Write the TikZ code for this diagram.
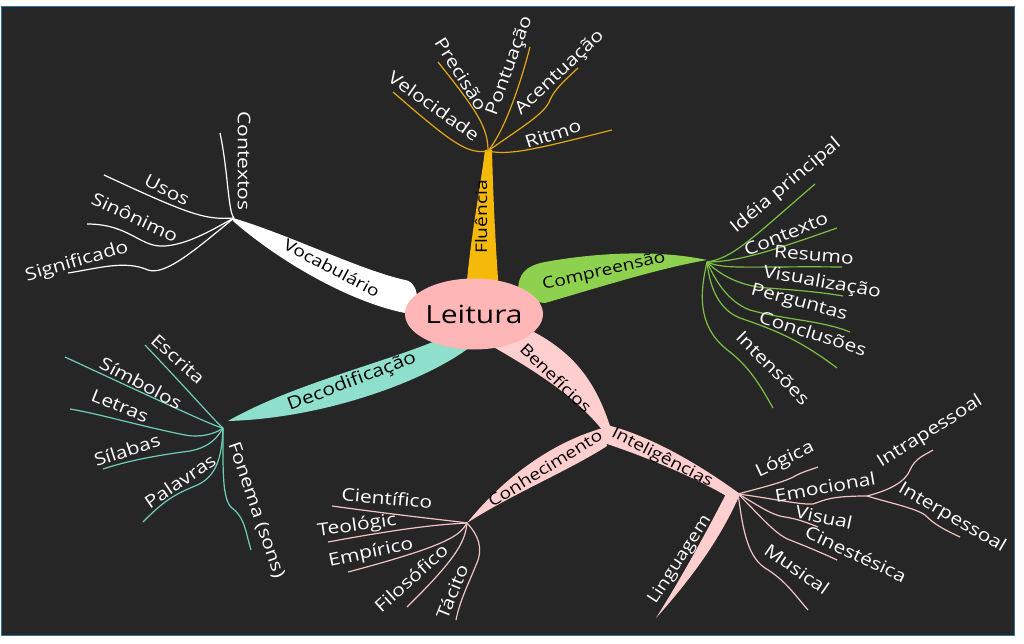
\documentclass[tikz,border=0pt]{standalone}
\usepackage{fontspec}
\setmainfont{Open Sans}[FakeStretch=1.2]
\usetikzlibrary{shapes.geometric}
\definecolor{bg}{HTML}{262626}
\definecolor{frameblue}{HTML}{2E6F9E}
\definecolor{ylw}{HTML}{F5B90A}
\definecolor{ylwline}{HTML}{E3A812}
\definecolor{grn}{HTML}{8ED14E}
\definecolor{grnline}{HTML}{7CC043}
\definecolor{teal}{HTML}{8EE0CC}
\definecolor{tealline}{HTML}{6FCFB6}
\definecolor{core}{HTML}{FFB6B6}
\definecolor{bpink}{HTML}{FFCFCF}
\definecolor{pinkline}{HTML}{F2C4C4}
\tikzset{
  leaf/.style={text=white, inner sep=1pt, font=\fontsize{17.5}{19}\selectfont},
  blabel/.style={text=black, inner sep=1pt, font=\fontsize{16}{18}\selectfont},
  wlabel/.style={text=white, inner sep=1pt, font=\fontsize{16.5}{18}\selectfont},
  yl/.style={draw=ylwline, line width=1.2pt},
  wl/.style={draw=white, line width=1.2pt},
  gl/.style={draw=grnline, line width=1.2pt},
  tl/.style={draw=tealline, line width=1.2pt},
  pl/.style={draw=pinkline, line width=1.2pt},
}
\begin{document}
\begin{tikzpicture}[x=1pt,y=-1pt]
\useasboundingbox (0,0) rectangle (1024,644);
\fill[white] (0,0) rectangle (1024,644);
\filldraw[fill=bg, draw=frameblue, line width=1pt] (1,7) rectangle (1014,635);

% ---------- branch bands ----------
\fill[ylw] (466,292) .. controls (470,240) and (480,190) .. (485,150) -- (492,150)
   .. controls (493,190) and (495,240) .. (499,292) -- cycle;
\fill[grn] (518,292) .. controls (518,274) and (525,266) .. (545,262)
   .. controls (600,252) and (660,250) .. (707,260)
   .. controls (660,268) and (600,287) .. (545,303) -- (520,300) -- cycle;
\fill[white] (233,218) .. controls (290,235) and (360,270) .. (405,280)
   .. controls (420,282) and (422,312) .. (405,313)
   .. controls (350,302) and (280,262) .. (233,221) -- cycle;
\fill[teal] (228,421) .. controls (300,380) and (400,360) .. (460,330) -- (470,347)
   .. controls (430,378) and (330,418) .. (228,421) -- cycle;
\fill[bpink] (490,345) .. controls (530,368) and (575,395) .. (603,431) -- (610,426)
   .. controls (598,390) and (580,355) .. (530,330) -- cycle;
\fill[bpink] (603,428) .. controls (560,440) and (510,470) .. (467,523)
   .. controls (510,495) and (570,470) .. (607,446) -- cycle;
\fill[bpink] (603,424) .. controls (650,435) and (700,465) .. (740,494) -- (728,497)
   .. controls (700,480) and (650,458) .. (604,443) -- cycle;
\fill[bpink] (727,492) -- (740,494) .. controls (720,540) and (690,580) .. (656,618)
   .. controls (680,580) and (705,535) .. (727,492) -- cycle;

% ---------- central node ----------
\node[ellipse, fill=core, minimum width=138pt, minimum height=71pt, inner sep=0pt,
      font=\fontsize{25}{27}\selectfont, text=black] (lei) at (474,314) {Leitura};

% ---------- branch labels ----------
\node[blabel, rotate=90] (flu) at (481,217) {Fluência};
\node[blabel, rotate=13] (com) at (604,272) {Compreensão};
\node[blabel, rotate=-28] (voc) at (332,268) {Vocabulário};
\node[blabel, rotate=21, font=\fontsize{17.5}{19}\selectfont] (dec) at (352,382) {Decodificação};
\node[blabel, rotate=-44] (ben) at (556,378) {Benefícios};
\node[blabel, rotate=32] (con) at (545,468) {Conhecimento};
\node[blabel, rotate=-27] (int) at (662,458) {Inteligências};
\node[wlabel, rotate=57] (lin) at (680,560) {Linguagem};

% ---------- hubs ----------
\coordinate (F) at (488,151);
\coordinate (V) at (234,218);
\coordinate (C) at (707,262);
\coordinate (D) at (223,428);
\coordinate (K) at (467,523);
\coordinate (I) at (738,494);
\coordinate (E) at (867,496);

% ---------- Fluencia leaves ----------
\coordinate (fe1) at (393,92);
\coordinate (fe2) at (438,62);
\coordinate (fe3) at (530,47);
\coordinate (fe4) at (578,68);
\coordinate (fe5) at (612,130);
\draw[yl] (F) .. controls (468,154) and (455,146) .. (fe1);
\draw[yl] (F) .. controls (488,128) and (478,112) .. (fe2);
\draw[yl] (F) .. controls (505,130) and (520,85) .. (fe3);
\draw[yl] (F) .. controls (520,128) and (545,114) .. (550,100) .. controls (554,90) and (565,80) .. (fe4);
\draw[yl] (F) .. controls (510,156) and (540,148) .. (fe5);
\node[leaf, rotate=-35] (l11) at (434,106) {Velocidade};
\node[leaf, rotate=-58] (l12) at (461,74) {Precisão};
\node[leaf, rotate=70] (l13) at (510,66) {Pontuação};
\node[leaf, rotate=43] (l14) at (560,73) {Acentuação};
\node[leaf, rotate=18] (l15) at (553,134) {Ritmo};

% ---------- Vocabulario leaves ----------
\coordinate (ve1) at (220,133);
\coordinate (ve2) at (104,175);
\coordinate (ve3) at (87,224);
\coordinate (ve4) at (68,273);
\draw[wl] (V) .. controls (228,212) and (228,170) .. (ve1);
\draw[wl] (V) .. controls (205,220) and (190,215) .. (ve2);
\draw[wl] (V) .. controls (215,228) and (190,244) .. (165,246) .. controls (140,248) and (130,224) .. (ve3);
\draw[wl] (V) .. controls (195,250) and (165,276) .. (148,270) .. controls (125,260) and (100,268) .. (ve4);
\node[leaf, rotate=-90] (l21) at (244,161) {Contextos};
\node[leaf, rotate=-27] (l22) at (167,190) {Usos};
\node[leaf, rotate=-25] (l23) at (135,217) {Sinônimo};
\node[leaf, rotate=16] (l24) at (77,262) {Significado};

% ---------- Compreensao leaves ----------
\coordinate (ce1) at (815,184);
\coordinate (ce2) at (837,228);
\coordinate (ce3) at (842,267);
\coordinate (ce4) at (843,296);
\coordinate (ce5) at (850,332);
\coordinate (ce6) at (837,368);
\coordinate (ce7) at (773,408);
\draw[gl] (C) .. controls (733,258) and (750,240) .. (ce1);
\draw[gl] (C) .. controls (740,262) and (780,248) .. (ce2);
\draw[gl] (C) .. controls (725,270) and (750,266) .. (ce3);
\draw[gl] (C) .. controls (720,275) and (740,286) .. (767,288) .. controls (795,290) and (820,292) .. (ce4);
\draw[gl] (C) .. controls (715,280) and (728,302) .. (750,310) .. controls (785,320) and (820,320) .. (ce5);
\draw[gl] (C) .. controls (710,290) and (720,310) .. (740,318) .. controls (775,330) and (800,340) .. (ce6);
\draw[gl] (C) .. controls (698,300) and (700,330) .. (730,352) .. controls (750,368) and (760,385) .. (ce7);
\node[leaf, rotate=40] (l31) at (786,186) {Idéia principal};
\node[leaf, rotate=22] (l32) at (786,234) {Contexto};
\node[leaf, rotate=-5] (l33) at (814,255) {Resumo};
\node[leaf, rotate=-10] (l34) at (822,283) {Visualização};
\node[leaf, rotate=-15] (l35) at (799,303) {Perguntas};
\node[leaf, rotate=-18] (l36) at (813,333) {Conclusões};
\node[leaf, rotate=-45] (l37) at (773,368) {Intensões};

% ---------- Decodificacao leaves ----------
\coordinate (de1) at (145,345);
\coordinate (de2) at (65,357);
\coordinate (de3) at (70,409);
\coordinate (de4) at (103,469);
\coordinate (de5) at (143,522);
\coordinate (de6) at (251,550);
\draw[tl] (D) .. controls (212,418) and (200,403) .. (de1);
\draw[tl] (D) .. controls (215,426) and (207,423) .. (de2);
\draw[tl] (D) .. controls (215,434) and (200,438) .. (185,435) .. controls (140,426) and (100,414) .. (de3);
\draw[tl] (D) .. controls (215,442) and (205,448) .. (190,451) .. controls (160,455) and (130,460) .. (de4);
\draw[tl] (D) .. controls (222,460) and (215,478) .. (195,486) .. controls (170,496) and (160,505) .. (de5);
\draw[tl] (D) .. controls (223,470) and (222,500) .. (232,508) .. controls (245,518) and (245,530) .. (de6);
\node[leaf, rotate=-42] (l41) at (178,359) {Escrita};
\node[leaf, rotate=-28] (l42) at (141,383) {Símbolos};
\node[leaf, rotate=-22] (l43) at (120,406) {Letras};
\node[leaf, rotate=18] (l44) at (127,450) {Sílabas};
\node[leaf, rotate=34] (l45) at (180,481) {Palavras};
\node[leaf, rotate=-71] (l46) at (256,510) {Fonema (sons)};

% ---------- Conhecimento leaves ----------
\coordinate (ke1) at (332,506);
\coordinate (ke2) at (328,542);
\coordinate (ke3) at (348,572);
\coordinate (ke4) at (407,607);
\coordinate (ke5) at (456,620);
\draw[pl] (K) .. controls (455,521) and (420,518) .. (ke1);
\draw[pl] (K) .. controls (450,524) and (420,525) .. (ke2);
\draw[pl] (K) .. controls (460,535) and (450,545) .. (ke3);
\draw[pl] (K) .. controls (465,540) and (460,555) .. (ke4);
\draw[pl] (K) .. controls (478,535) and (484,548) .. (476,565) .. controls (468,585) and (460,600) .. (ke5);
\node[leaf, rotate=-5] (l51) at (387,498) {Científico};
\node[leaf, rotate=8] (l52) at (357,526) {Teológic};
\node[leaf, rotate=12] (l53) at (371,553) {Empírico};
\node[leaf, rotate=42] (l54) at (411,578) {Filosófico};
\node[leaf, rotate=68] (l55) at (452,592) {Tácito};

% ---------- Inteligencias leaves ----------
\coordinate (ie1) at (818,467);
\coordinate (ie3) at (818,527);
\coordinate (ie4) at (837,560);
\coordinate (ie5) at (808,610);
\coordinate (ee1) at (933,450);
\coordinate (ee2) at (960,537);
\draw[pl] (I) .. controls (760,488) and (785,482) .. (795,476) .. controls (802,472) and (810,470) .. (ie1);
\draw[pl] (I) .. controls (770,498) and (800,505) .. (813,504) .. controls (825,500) and (830,496) .. (E);
\draw[pl] (E) .. controls (890,490) and (905,482) .. (910,470) .. controls (915,458) and (925,455) .. (ee1);
\draw[pl] (E) .. controls (890,503) and (915,508) .. (925,515) .. controls (935,525) and (945,530) .. (ee2);
\draw[pl] (I) .. controls (755,503) and (770,515) .. (785,517) .. controls (798,519) and (808,523) .. (ie3);
\draw[pl] (I) .. controls (755,510) and (775,535) .. (790,540) .. controls (805,546) and (820,552) .. (ie4);
\draw[pl] (I) .. controls (742,520) and (745,555) .. (765,568) .. controls (785,580) and (795,595) .. (ie5);
\node[leaf, rotate=25] (l61) at (785,460) {Lógica};
\node[leaf, rotate=10] (l62) at (825,487) {Emocional};
\node[leaf, rotate=32] (l63) at (930,432) {Intrapessoal};
\node[leaf, rotate=-30] (l64) at (952,518) {Interpessoal};
\node[leaf, rotate=-12] (l65) at (824,517) {Visual};
\node[leaf, rotate=-25] (l66) at (856,554) {Cinestésica};
\node[leaf, rotate=-35] (l67) at (797,569) {Musical};
\end{tikzpicture}
\end{document}
